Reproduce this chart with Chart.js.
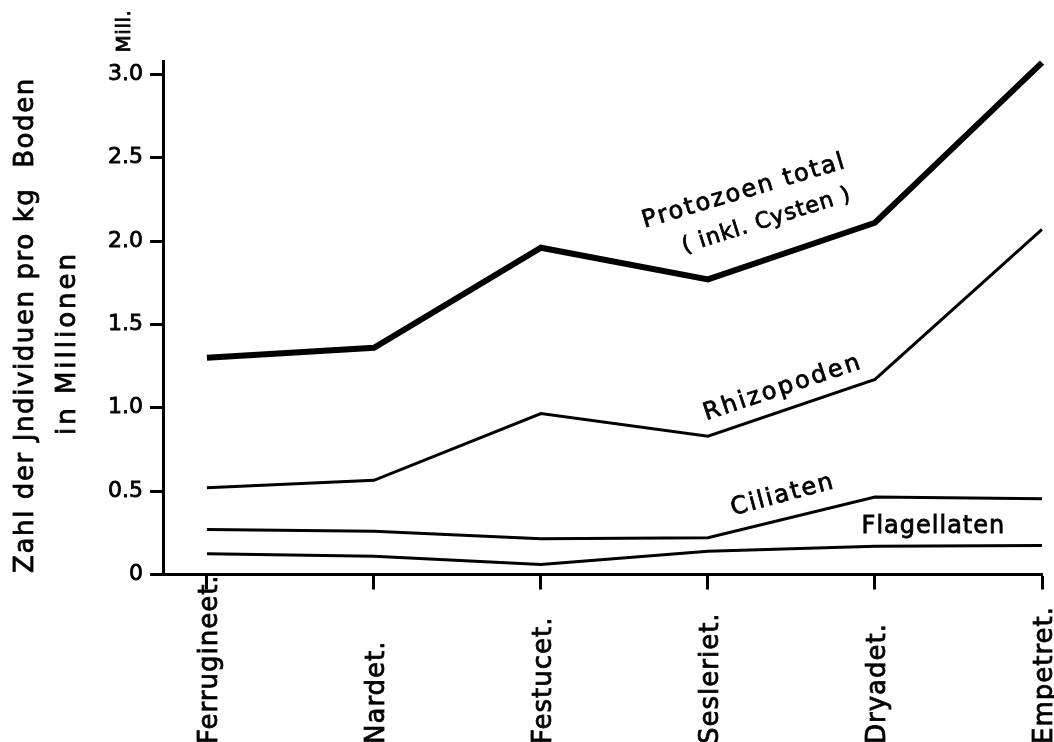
<!DOCTYPE html>
<html>
<head>
<meta charset="utf-8">
<script src="https://cdn.jsdelivr.net/npm/chart.js@4/dist/chart.umd.min.js"></script>
<style>
    html, body { margin: 0; padding: 0; background: #fff; }
    .grafico-ct { width: 1054px; height: 742px; }
</style>
</head>
<body>
<div class="grafico-ct"><canvas id="grafico" width="1054" height="742"></canvas></div>
<script>
//*************  Dados  ***********************************/
const categorias = ["Ferrugineet.", "Nardet.", "Festucet.", "Sesleriet.", "Dryadet.", "Empetret."]

const protozoen_total = [1.30, 1.36, 1.96, 1.77, 2.11, 3.07]
const rhizopoden      = [0.52, 0.565, 0.965, 0.83, 1.17, 2.07]
const ciliaten        = [0.27, 0.26, 0.215, 0.22, 0.465, 0.455]
const flagellaten     = [0.125, 0.11, 0.06, 0.14, 0.17, 0.174]

const y_ticks = [0, 0.5, 1.0, 1.5, 2.0, 2.5, 3.0]

// nomes das curvas escritos junto às linhas: [texto, x (categoria), y (valor), angulo, tamanho, espaco]
const rotulos = [
    ["Protozoen total", 2.62, 2.08, -16.6, 24, 2],
    ["( inkl. Cysten )", 2.86, 1.93, -17.5, 22, 1],
    ["Rhizopoden", 2.99, 0.925, -18.5, 24, 2.5],
    ["Ciliaten", 3.15, 0.356, -15, 24, 2],
    ["Flagellaten", 3.92, 0.249, 0, 24, 1]
]

const fonte = '"DejaVu Sans", sans-serif'

function texto(ctx, str, x, y, ang, size, esp, align){
    ctx.save()
    ctx.translate(x, y)
    ctx.rotate(ang * Math.PI / 180)
    ctx.font = size + "px " + fonte
    ctx.letterSpacing = esp + "px"
    ctx.fillStyle = "#000"
    ctx.strokeStyle = "#000"
    ctx.lineWidth = 0.8 // tinta mais grossa, como no original
    ctx.textAlign = align || "left"
    ctx.textBaseline = "alphabetic"
    ctx.fillText(str, 0, 0)
    ctx.strokeText(str, 0, 0)
    ctx.restore()
}

// plugin para os textos que o Chart.js não põe onde queremos
const textos_plugin = {
    id: "textos",
    afterDraw(chart){
        const ctx = chart.ctx
        const sx = chart.scales.x
        const sy = chart.scales.y

        // nomes das categorias, rodados e alinhados em baixo
        categorias.forEach((c, i) => {
            texto(ctx, c, sx.getPixelForValue(i) + 10, 744, -90, 26, 1)
        })

        // nomes das curvas
        rotulos.forEach(r => {
            texto(ctx, r[0], sx.getPixelForValue(r[1]), sy.getPixelForValue(r[2]), r[3], r[4], r[5])
        })

        // titulo do eixo y (2 linhas) + "Mill."
        texto(ctx, "Zahl der Jndividuen pro kg  Boden", 33, 325, -90, 26, 1.6, "center")
        texto(ctx, "in Millionen", 75, 343, -90, 26, 3, "center")
        texto(ctx, "Mill.", 130, 31, -90, 20, 0.5, "center")
    }
}

function serie(valores){
    return valores.map((v, i) => ({ x: i, y: v }))
}

Chart.defaults.font.family = fonte
Chart.defaults.color = "#000"

const GP = document.getElementById("grafico")

new Chart(GP, {
    type: "line",
    data: {
        datasets: [
            { label: "Protozoen total", data: serie(protozoen_total), borderWidth: 6 },
            { label: "Rhizopoden", data: serie(rhizopoden), borderWidth: 3 },
            { label: "Ciliaten", data: serie(ciliaten), borderWidth: 3 },
            { label: "Flagellaten", data: serie(flagellaten), borderWidth: 3 }
        ].map(d => Object.assign(d, {
            borderColor: "#000",
            backgroundColor: "#000",
            pointRadius: 0,
            tension: 0,
            fill: false,
            clip: false
        }))
    },
    options: {
        responsive: false,
        devicePixelRatio: 1,
        animation: false,
        layout: { padding: { top: 61, right: 12, bottom: 0, left: 0 } },
        plugins: {
            legend: { display: false },
            tooltip: { enabled: false }
        },
        scales: {
            x: {
                type: "linear",
                min: -0.263,
                max: 5,
                afterBuildTicks: s => { s.ticks = categorias.map((c, i) => ({ value: i })) },
                afterFit: s => { s.height = 742 - 574.5 },
                ticks: { display: false },
                grid: {
                    drawOnChartArea: false,
                    drawTicks: true,
                    tickLength: 15,
                    tickColor: "#000",
                    tickWidth: 3
                },
                border: { display: true, color: "#000", width: 3 }
            },
            y: {
                min: 0,
                max: 3.08,
                afterBuildTicks: s => { s.ticks = y_ticks.map(v => ({ value: v })) },
                afterFit: s => { s.width = 163 },
                ticks: {
                    callback: v => v === 0 ? "0" : v.toFixed(1),
                    color: "#000",
                    font: { size: 22 },
                    textStrokeColor: "#000",
                    textStrokeWidth: 0.8,
                    padding: 7
                },
                grid: {
                    drawOnChartArea: false,
                    drawTicks: true,
                    tickLength: 13,
                    tickColor: "#000",
                    tickWidth: 3
                },
                border: { display: true, color: "#000", width: 3 }
            }
        }
    },
    plugins: [textos_plugin]
})
</script>
</body>
</html>
